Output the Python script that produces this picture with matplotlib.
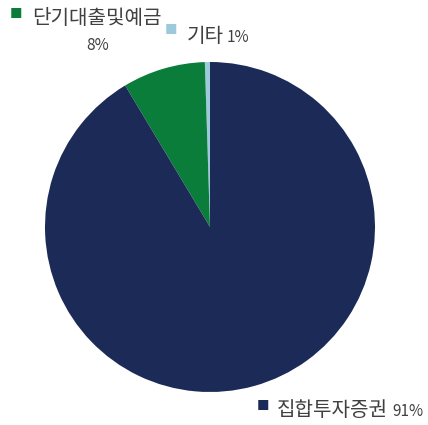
import matplotlib.pyplot as plt

plt.rcParams['font.family'] = ['Noto Sans CJK KR', 'DejaVu Sans']

labels = ['기타', '단기대출및예금', '집합투자증권']
values = [0.5, 8.1, 91.4]
pct_text = ['1%', '8%', '91%']
colors = ['#9ccadb', '#0a7d3a', '#1b2a56']

W, H = 428, 425
fig = plt.figure(figsize=(W / 100, H / 100), dpi=100)
ax = fig.add_axes([45 / W, (H - 392) / H, 330 / W, 330 / H])
ax.pie(values, colors=colors, startangle=90, counterclock=True,
       wedgeprops=dict(linewidth=0))
ax.set_xlim(-1, 1)
ax.set_ylim(-1, 1)
ax.set_aspect('equal')
ax.axis('off')


def px(x, y):
    return x / W, 1 - y / H


txt = '#404040'
# legend-like labels
fig.text(*px(10, 14), '■', color=colors[1], fontsize=9, va='center', ha='left')
fig.text(*px(32, 19), labels[1], fontsize=14.5, color=txt, va='center', ha='left')
fig.text(*px(98, 46), pct_text[1], fontsize=11, color=txt, va='center', ha='center')

fig.text(*px(165, 31), '■', color=colors[0], fontsize=9, va='center', ha='left')
fig.text(*px(187, 37), labels[0], fontsize=14.5, color=txt, va='center', ha='left')
fig.text(*px(227, 38), pct_text[0], fontsize=11, color=txt, va='center', ha='left')

fig.text(*px(257, 407), '■', color=colors[2], fontsize=9, va='center', ha='left')
fig.text(*px(277, 411), labels[2], fontsize=14.5, color=txt, va='center', ha='left')
fig.text(*px(392, 412), pct_text[2], fontsize=11, color=txt, va='center', ha='left')

fig.savefig('out.png', dpi=100)
